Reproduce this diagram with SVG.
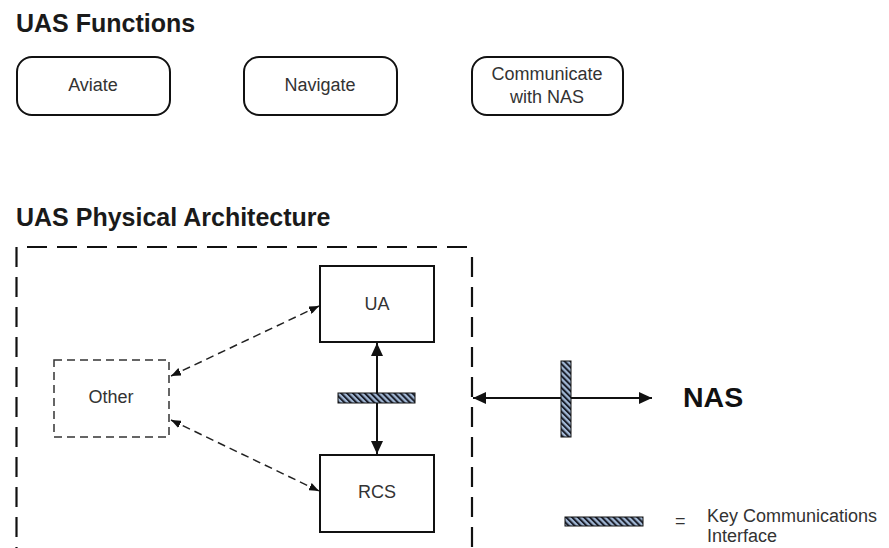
<svg xmlns="http://www.w3.org/2000/svg" width="889" height="548" viewBox="0 0 889 548">
  <defs>
    <!-- diagonal hatch used for the communications interface bars -->
    <pattern id="hatch" patternUnits="userSpaceOnUse" width="4.2" height="4.2" patternTransform="rotate(-45)">
      <rect width="4.2" height="4.2" fill="#a3b9d6"/>
      <rect width="2" height="4.2" fill="#1b1f2b"/>
    </pattern>
    <marker id="solidHead" markerUnits="userSpaceOnUse" markerWidth="13" markerHeight="12" refX="13" refY="6" orient="auto-start-reverse">
      <path d="M0,0 L13,6 L0,12 z" fill="#111"/>
    </marker>
    <marker id="smallHead" markerUnits="userSpaceOnUse" markerWidth="10" markerHeight="8" refX="10" refY="4" orient="auto-start-reverse">
      <path d="M0,0 L10,4 L0,8 z" fill="#111"/>
    </marker>
  </defs>
  <style>
    .title { font-family: "Liberation Sans", Arial, sans-serif; font-weight: bold; font-size: 25px; fill: #1a1a1a; }
    .label { font-family: "Liberation Sans", Arial, sans-serif; font-size: 18px; fill: #333; text-anchor: middle; }
    .note { font-family: "Liberation Sans", Arial, sans-serif; font-size: 18px; fill: #333; }
    .func { fill: #fff; stroke: #111; stroke-width: 2; }
    .block { fill: #fff; stroke: #111; stroke-width: 2; }
    .bar { fill: url(#hatch); stroke: #111; stroke-width: 1; }
    .solid { stroke: #111; stroke-width: 2; fill: none; }
    .dashed { stroke: #222; stroke-width: 1.5; stroke-dasharray: 8 5; fill: none; }
  </style>

  <rect width="889" height="548" fill="#fff"/>

  <!-- Section: functions -->
  <text class="title" x="16" y="32">UAS Functions</text>

  <g id="aviate">
    <rect class="func" x="17" y="57" width="153" height="58" rx="15"/>
    <text class="label" x="93" y="91">Aviate</text>
  </g>
  <g id="navigate">
    <rect class="func" x="244" y="57" width="153" height="58" rx="15"/>
    <text class="label" x="320" y="91">Navigate</text>
  </g>
  <g id="communicate">
    <rect class="func" x="472" y="57" width="151" height="58" rx="15"/>
    <text class="label" x="547" y="80">Communicate</text>
    <text class="label" x="547" y="103">with NAS</text>
  </g>

  <!-- Section: physical architecture -->
  <text class="title" x="16" y="226">UAS Physical Architecture</text>

  <g id="uas-boundary">
    <path d="M27,247 H472 M16.5,247 V548 M472,257 V548" stroke="#111" stroke-width="2.2" stroke-dasharray="20 10" fill="none"/>
  </g>

  <g id="ua">
    <rect class="block" x="320" y="266" width="114" height="76"/>
    <text class="label" x="377" y="310">UA</text>
  </g>
  <g id="rcs">
    <rect class="block" x="320" y="455" width="114" height="77"/>
    <text class="label" x="377" y="498">RCS</text>
  </g>
  <g id="other">
    <rect x="54" y="360" width="115" height="77" fill="#fff" stroke="#333" stroke-width="1.5" stroke-dasharray="8 5"/>
    <text class="label" x="111" y="403">Other</text>
  </g>
  <g id="nas">
    <text x="683" y="407" font-family="Liberation Sans, Arial, sans-serif" font-weight="bold" font-size="28.5" fill="#111">NAS</text>
  </g>

  <g id="connectors">
    <line class="solid" x1="377" y1="343" x2="377" y2="454" marker-start="url(#solidHead)" marker-end="url(#solidHead)"/>
    <line class="solid" x1="473" y1="398" x2="652" y2="398" marker-start="url(#solidHead)" marker-end="url(#solidHead)"/>
    <line class="dashed" x1="171" y1="376" x2="319" y2="306" marker-start="url(#smallHead)" marker-end="url(#smallHead)"/>
    <line class="dashed" x1="171" y1="420" x2="319" y2="491" marker-start="url(#smallHead)" marker-end="url(#smallHead)"/>
  </g>

  <g id="interfaces">
    <rect class="bar" x="338" y="393" width="77" height="10"/>
    <rect class="bar" x="561" y="361" width="10" height="76"/>
  </g>

  <g id="legend">
    <rect class="bar" x="565" y="517" width="78" height="9"/>
    <text class="note" x="675" y="527">=</text>
    <text class="note" x="707" y="522">Key Communications</text>
    <text class="note" x="707" y="542">Interface</text>
  </g>
</svg>
